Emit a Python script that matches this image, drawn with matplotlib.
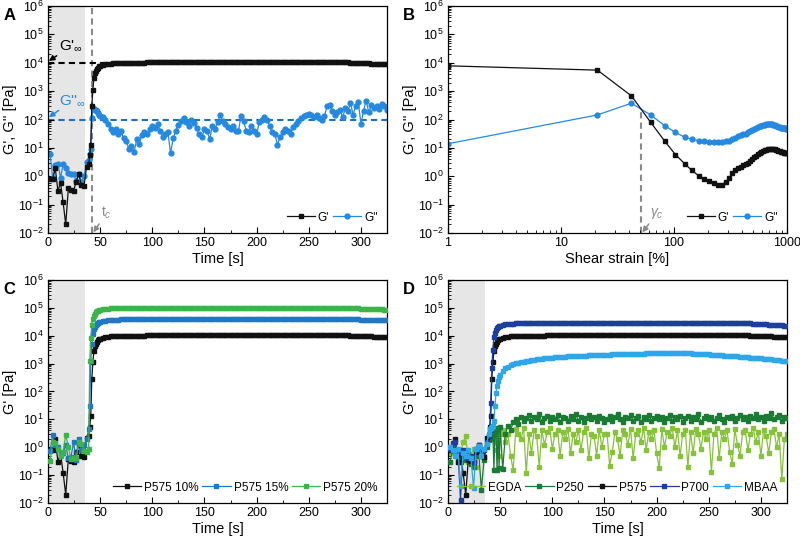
import numpy as np
import matplotlib
matplotlib.use("Agg")
import matplotlib.pyplot as plt
from matplotlib.ticker import LogLocator, NullFormatter, MultipleLocator, FuncFormatter

plt.rcParams['font.family'] = ['Liberation Sans', 'DejaVu Sans']
plt.rcParams['mathtext.fontset'] = 'custom'
plt.rcParams['mathtext.rm'] = 'Liberation Sans'
plt.rcParams['mathtext.it'] = 'Liberation Sans:italic'

# ---- time grid (s) shared by the time sweeps ----
t_early = [2, 4.5, 7, 9.5, 12, 14.5, 17, 19.5, 22, 24.5, 27, 29.5, 32, 34.5, 37, 39]
t_trans = [40, 41, 42, 43, 44, 45, 46, 47, 48, 49, 50]
time_s = np.concatenate([t_early, t_trans, np.arange(52.5, 325.1, 2.5)])

# P575 10 % (G' in A, black in C and D)
g1_p575 = [0.8, 0.8, 1.9, 0.3, 0.6, 0.12, 0.02, 0.38, 0.33, 0.3, 0.65, 1.2, 0.48, 0.45, 2.2, 2.6,
           5.5, 13, 290, 1100, 2800, 4200, 5200, 6000, 6800, 7400, 7900,
           8500, 8900, 9200, 9400, 9600, 9700, 9800, 9900, 9950, 10000,
           10000, 10100, 10100, 10100, 10200, 10200, 10200, 10300, 10300, 10300,
           10300, 10400, 10400, 10400, 10400, 10500, 10500, 10500, 10500, 10500,
           10500, 10600, 10600, 10600, 10600, 10600, 10600, 10700, 10700, 10700,
           10700, 10700, 10700, 10700, 10700, 10700, 10700, 10700, 10700, 10700,
           10700, 10700, 10800, 10800, 10800, 10800, 10800, 10800, 10800, 10800,
           10800, 10800, 10800, 10800, 10800, 10800, 10800, 10800, 10800, 10800,
           10800, 10800, 10800, 10800, 10800, 10800, 10800, 10800, 10800, 10800,
           10800, 10800, 10800, 10800, 10700, 10700, 10700, 10700, 10700, 10600,
           10600, 10500, 10500, 10400, 10300, 10200, 10100, 10000, 9900, 9800,
           9700, 9600, 9500, 9400, 9300, 9200, 9100, 9000, 8900, 8800]

# G'' of P575 10 % (panel A)
g2_p575 = [6.0, 0.85, 2.5, 2.7, 0.9, 2.6, 2.0, 1.3, 1.25, 1.2, 0.7, 1.2, 0.65, 1.0, 3.2, 3.6,
           6, 9, 110, 250, 235, 220, 210, 195, 170, 150, 130,
           120, 100, 70, 48, 35, 45, 30, 38, 22, 18,
           9, 12, 7, 20, 14, 28, 35, 32, 45, 60,
           50, 70, 40, 25, 30, 35, 6.5, 22, 40, 65,
           90, 110, 80, 60, 95, 75, 50, 30, 25, 45,
           40, 20, 60, 45, 80, 140, 90, 70, 55, 45,
           60, 40, 38, 130, 90, 40, 35, 60, 40, 30,
           80, 100, 120, 95, 60, 35, 30, 13, 25, 35,
           45, 40, 30, 55, 70, 90, 110, 130, 150, 160,
           140, 120, 150, 110, 100, 130, 300, 320, 200, 150,
           180, 210, 120, 250, 200, 380, 150, 300, 420, 70,
           200, 460, 180, 320, 250, 300, 230, 350, 300, 220]

# P575 15 % and 20 % (panel C)
g1_p575_15 = [0.75, 2.8, 1.2, 1.0, 0.55, 0.6, 1.2, 0.4, 0.45, 1.5, 0.35, 1.9, 0.8, 1.2, 2.0, 4.5,
              30, 1200, 5000, 12000, 17000, 21000, 24000, 26500, 28500, 30000, 31000,
              33000, 34500, 35500, 36500, 37000, 37500, 38000, 38500, 38800, 39000,
              39200, 39400, 39600, 39800, 40000, 40000, 40200, 40200, 40400, 40400,
              40500, 40500, 40600, 40600, 40700, 40700, 40800, 40800, 40800, 40900,
              40900, 40900, 41000, 41000, 41000, 41000, 41000, 41000, 41000, 41000,
              41000, 41000, 41000, 41000, 41000, 41000, 41000, 41000, 41000, 41000,
              41000, 41000, 41000, 41000, 41000, 41000, 41000, 41000, 41000, 41000,
              41000, 41000, 41000, 41000, 41000, 41000, 41000, 41000, 41000, 41000,
              41000, 41000, 41000, 41000, 41000, 41000, 41000, 41000, 40900, 40900,
              40900, 40800, 40800, 40800, 40700, 40700, 40600, 40600, 40500, 40500,
              40400, 40300, 40000, 39800, 39500, 39200, 38900, 38600, 38300, 38000,
              37700, 37400, 37100, 36800, 36500, 36200, 36000, 35800, 35600, 35400]
g1_p575_20 = [0.32, 1.5, 1.4, 0.9, 0.5, 0.7, 2.8, 1.0, 0.38, 0.4, 0.4, 1.5, 1.3, 0.75, 0.7, 0.9,
              1200, 8000, 25000, 40000, 52000, 62000, 70000, 76000, 80000, 84000, 87000,
              90000, 92000, 94000, 95500, 96500, 97500, 98000, 98500, 99000, 99500,
              100000, 100000, 100500, 100500, 101000, 101000, 101000, 101500, 101500, 101500,
              102000, 102000, 102000, 102000, 102000, 102000, 102000, 102000, 102000, 102000,
              102000, 102000, 102000, 102000, 102000, 102000, 102000, 102000, 102000, 102000,
              102000, 102000, 102000, 102000, 102000, 102000, 102000, 102000, 102000, 102000,
              102000, 102000, 102000, 102000, 102000, 102000, 102000, 102000, 102000, 102000,
              102000, 102000, 102000, 102000, 102000, 102000, 102000, 102000, 102000, 102000,
              102000, 102000, 102000, 102000, 102000, 102000, 102000, 102000, 102000, 102000,
              102000, 102000, 102000, 102000, 101500, 101500, 101500, 101000, 101000, 101000,
              101000, 100500, 100000, 99500, 99000, 98000, 97000, 96000, 95000, 94000,
              93000, 92000, 91000, 90000, 89000, 88500, 88000, 87500, 87000, 86000]

# crosslinkers (panel D)
g1_egda = [0.6, 1.1, 0.9, 0.4, 0.6, 1.5, 2.5, 0.3, 0.5, 0.9, 0.2, 1.2, 0.8, 0.5, 1.2, 2.0,
           3.0, 5.0, 6.0, 2.0, 4.5, 1.5, 3.5, 0.8, 4.0, 0.5, 3.0,
           4, 1.5, 3, 0.5, 0.15, 4.5, 3, 2, 5, 0.12,
           3, 0.6, 4, 2.5, 0.2, 4, 1.2, 3.5, 5, 0.9,
           3, 4, 0.5, 3.5, 2, 4.5, 0.6, 3, 1.5, 4,
           0.8, 3.5, 5, 0.4, 3, 2.5, 0.5, 4, 1.0, 3,
           3, 0.22, 0.7, 3.5, 2, 0.5, 4, 3, 1.2, 4.5,
           0.4, 3, 4, 1.5, 5, 0.8, 3.5, 2, 4, 0.6,
           0.18, 4.5, 1.0, 3.5, 2.5, 5, 1.0, 4, 0.5, 3,
           4, 0.2, 3.5, 0.6, 4.5, 3, 0.9, 3.5, 2, 4,
           0.13, 3, 5, 0.4, 3.5, 2, 4, 0.7, 0.25, 4.5,
           1.2, 0.5, 3.5, 4, 0.8, 3, 5, 1.5, 3.5, 0.5,
           4, 2.5, 0.6, 3.5, 4.5, 1.0, 3, 0.07, 2, 3]
g1_p250 = [0.3, 0.9, 0.7, 0.45, 0.3, 0.5, 0.35, 0.6, 0.25, 0.2, 0.5, 0.6, 0.03, 0.35, 1.0, 1.8,
           2.5, 3.5, 2.0, 4.0, 0.15, 3.0, 5.0, 0.15, 4.0, 0.18, 5.5,
           0.16, 3, 6, 4, 8, 10, 7, 12, 9, 11,
           14, 9, 12, 10, 15, 8, 11, 13, 9, 12,
           10, 14, 8, 12, 11, 9, 13, 10, 15, 9,
           12, 8, 11, 14, 10, 12, 9, 13, 11, 8,
           10, 13, 9, 12, 15, 10, 8, 12, 11, 14,
           9, 11, 13, 8, 12, 10, 14, 9, 11, 13,
           10, 12, 8, 11, 14, 9, 12, 10, 13, 8,
           11, 13, 9, 12, 10, 15, 8, 11, 13, 10,
           12, 9, 11, 14, 10, 8, 12, 11, 13, 9,
           11, 14, 10, 12, 9, 13, 11, 15, 10, 12,
           9, 13, 11, 17, 10, 12, 14, 9, 12, 11]
g1_p700 = [0.9, 1.4, 1.5, 0.7, 0.013, 0.8, 0.6, 0.4, 0.5, 0.3, 0.9, 1.2, 0.6, 0.8, 1.5, 2.5,
           4, 40, 700, 3200, 9000, 13000, 16000, 18500, 20500, 22000, 23000,
           24500, 25500, 26200, 26800, 27200, 27500, 27800, 28000, 28200, 28300,
           28400, 28500, 28500, 28600, 28600, 28700, 28700, 28700, 28800, 28800,
           28800, 28800, 28900, 28900, 28900, 28900, 29000, 29000, 29000, 29000,
           29000, 29000, 29000, 29000, 29000, 29000, 29000, 29000, 29000, 29000,
           29000, 29000, 29000, 29000, 29000, 29000, 29000, 29000, 29000, 29000,
           29000, 29000, 29000, 29000, 29000, 29000, 29000, 29000, 29000, 29000,
           29000, 29000, 29000, 29000, 29000, 29000, 29000, 29000, 29000, 29000,
           29000, 29000, 29000, 29000, 29000, 29000, 29000, 29000, 29000, 29000,
           29000, 29000, 29000, 28900, 28900, 28900, 28900, 28800, 28800, 28800,
           28800, 28600, 28400, 28200, 28000, 27700, 27400, 27000, 26600, 26200,
           25800, 25400, 25000, 24600, 24300, 24000, 23700, 23400, 23100, 22800]
g1_mbaa = [1.0, 0.8, 0.5, 0.9, 0.04, 0.6, 0.5, 0.8, 0.4, 0.035, 0.9, 1.1, 0.5, 0.9, 1.3, 3.0,
           4.5, 5, 5.5, 6, 9, 30, 90, 160, 230, 320, 400,
           560, 680, 780, 870, 950, 1020, 1080, 1140, 1190, 1240,
           1290, 1340, 1380, 1420, 1460, 1500, 1540, 1570, 1600, 1630,
           1660, 1690, 1720, 1750, 1780, 1800, 1830, 1850, 1870, 1890,
           1910, 1930, 1950, 1970, 1990, 2010, 2030, 2050, 2070, 2090,
           2100, 2120, 2140, 2160, 2170, 2190, 2200, 2220, 2230, 2240,
           2250, 2260, 2280, 2290, 2300, 2310, 2320, 2330, 2340, 2350,
           2360, 2370, 2380, 2390, 2400, 2400, 2390, 2380, 2370, 2360,
           2350, 2330, 2310, 2290, 2270, 2250, 2220, 2190, 2160, 2130,
           2100, 2070, 2040, 2010, 1980, 1950, 1920, 1890, 1860, 1830,
           1800, 1770, 1740, 1710, 1680, 1650, 1620, 1590, 1560, 1530,
           1500, 1470, 1440, 1410, 1380, 1350, 1320, 1290, 1260, 1230]

# ---- amplitude sweep (panel B) ----
strain = [1, 21, 42, 62, 83, 103, 124, 144, 165, 185, 205, 226, 246, 267, 287, 308, 328,
          348, 369, 389, 410, 430, 451, 471, 492, 512, 533, 553, 574, 594, 615, 635, 656,
          676, 697, 717, 738, 758, 779, 799, 820, 840, 861, 881, 902, 922, 943, 963, 984, 1000]
amp_g1 = [7800, 5500, 680, 81, 17, 5.8, 2.8, 1.6, 1.05, 0.8, 0.67, 0.57, 0.51, 0.51, 0.63,
          0.87, 1.3, 1.7, 1.9, 2.1, 2.4, 2.7, 3.0, 3.4, 3.9, 4.6, 5.3, 6.1, 6.6, 7.1, 7.7,
          8.2, 8.6, 8.8, 9.1, 9.1, 9.1, 9.1, 8.9, 8.6, 8.2, 7.8, 7.5, 7.3, 7.1, 7.0, 6.8,
          6.8, 6.6, 6.4]
amp_g2 = [14, 145, 375, 145, 60, 35, 24, 20, 18, 17, 16, 15.5, 15.5, 16, 17, 18, 20, 23,
          26, 28, 30, 32, 35, 38, 42, 47, 51, 55, 58, 61, 63, 65, 67, 68, 68, 68, 67, 65,
          63, 60, 57, 55, 54, 52, 51, 50, 49, 49, 48, 47]

c_black = '#111111'
c_blue = '#2589e0'
c_15 = '#2277c5'
c_20 = '#3cb44a'
c_egda = '#86c23a'
c_p250 = '#1b7a33'
c_p700 = '#1c3f9e'
c_mbaa = '#2ea6ea'
c_grey = '#8a8a8a'


def style(ax, xlabel, ylabel, timeaxis=True):
    ax.set_yscale('log')
    ax.set_ylim(1e-2, 1e6)
    ax.yaxis.set_major_locator(LogLocator(base=10, numticks=12))
    ax.yaxis.set_minor_locator(LogLocator(base=10, subs=np.arange(2, 10), numticks=12))
    ax.yaxis.set_minor_formatter(NullFormatter())
    if timeaxis:
        ax.set_xlim(0, 325)
        ax.xaxis.set_major_locator(MultipleLocator(50))
        ax.xaxis.set_minor_locator(MultipleLocator(25))
        ax.axvspan(0, 35, color='#e6e6e6', lw=0, zorder=0)
    ax.tick_params(which='both', direction='in', top=False, right=False, labelsize=9, pad=3)
    ax.tick_params(which='major', length=4)
    ax.tick_params(which='minor', length=2)
    ax.set_xlabel(xlabel, fontsize=10.5, labelpad=2)
    ax.set_ylabel(ylabel, fontsize=10.5, labelpad=1)
    for s in ax.spines.values():
        s.set_linewidth(0.9)


def legend(ax, ncol):
    ax.legend(loc='lower right', ncol=ncol, frameon=False, fontsize=8.5, handlelength=2.4,
              handletextpad=0.25, columnspacing=0.3, borderaxespad=0.4)


fig = plt.figure(figsize=(8, 5.42), dpi=100)
axA = fig.add_axes([0.06, 0.5701, 0.42375, 0.4188])
axB = fig.add_axes([0.56, 0.5701, 0.42375, 0.4188])
axC = fig.add_axes([0.06, 0.0720, 0.42375, 0.4114])
axD = fig.add_axes([0.56, 0.0720, 0.42375, 0.4114])

arrow_kw = dict(arrowstyle='-|>', lw=1.1, mutation_scale=8, shrinkA=0, shrinkB=0)

# ---- A ----
style(axA, 'Time [s]', "G', G'' [Pa]")
axA.axvline(42, color=c_grey, ls=(0, (3, 2)), lw=1.5, zorder=1)
axA.plot([0, 60], [1e4, 1e4], color='black', ls=(0, (3, 2)), lw=1.5, zorder=1)
axA.plot([0, 325], [1e2, 1e2], color='#1f6fbf', ls=(0, (3, 2)), lw=1.5, zorder=1)
axA.plot(time_s, g1_p575, '-s', color=c_black, ms=3, lw=0.9, label="G'", zorder=3)
axA.plot(time_s, g2_p575, '-o', color=c_blue, ms=3.5, lw=0.9, label="G''", zorder=2)
axA.annotate(r"G'$_\infty$", xy=(0.8, 1.15e4), xytext=(11, 2.2e4), fontsize=11,
             va='bottom', ha='left', arrowprops=dict(color='black', **arrow_kw))
axA.annotate(r"G''$_\infty$", xy=(0.8, 1.2e2), xytext=(11, 2.6e2), fontsize=11, color=c_blue,
             va='bottom', ha='left', arrowprops=dict(color=c_blue, **arrow_kw))
axA.annotate(r"t$_c$", xy=(43.5, 0.0105), xytext=(51, 0.026), fontsize=10, color=c_grey,
             va='bottom', ha='left', arrowprops=dict(color=c_grey, **arrow_kw))
legend(axA, 2)

# ---- B ----
style(axB, 'Shear strain [%]', "G', G'' [Pa]", timeaxis=False)
axB.set_xscale('log')
axB.set_xlim(1, 1000)
axB.xaxis.set_minor_formatter(NullFormatter())
axB.xaxis.set_major_formatter(FuncFormatter(lambda v, p: '%g' % v))
axB.plot([51, 51], [1e-2, 240], color=c_grey, ls=(0, (3, 2)), lw=1.5, zorder=1)
axB.plot(strain, amp_g1, '-s', color=c_black, ms=3, lw=0.9, label="G'", zorder=3)
axB.plot(strain, amp_g2, '-o', color=c_blue, ms=3.5, lw=0.9, label="G''", zorder=2)
axB.annotate(r"$\gamma_c$", xy=(52.5, 0.0105), xytext=(61, 0.026), fontsize=10, color=c_grey,
             va='bottom', ha='left', arrowprops=dict(color=c_grey, **arrow_kw))
legend(axB, 2)

# ---- C ----
style(axC, 'Time [s]', "G' [Pa]")
axC.plot(time_s, g1_p575, '-s', color=c_black, ms=3, lw=0.9, label='P575 10%', zorder=3)
axC.plot(time_s, g1_p575_15, '-s', color=c_15, ms=3, lw=0.9, label='P575 15%', zorder=3)
axC.plot(time_s, g1_p575_20, '-s', color=c_20, ms=3, lw=0.9, label='P575 20%', zorder=3)
legend(axC, 3)

# ---- D ----
style(axD, 'Time [s]', "G' [Pa]")
axD.plot(time_s, g1_egda, '-s', color=c_egda, ms=3, lw=0.9, label='EGDA', zorder=2)
axD.plot(time_s, g1_p250, '-s', color=c_p250, ms=3, lw=0.9, label='P250', zorder=3)
axD.plot(time_s, g1_p575, '-s', color=c_black, ms=3, lw=0.9, label='P575', zorder=3)
axD.plot(time_s, g1_p700, '-s', color=c_p700, ms=3, lw=0.9, label='P700', zorder=3)
axD.plot(time_s, g1_mbaa, '-s', color=c_mbaa, ms=3, lw=0.9, label='MBAA', zorder=3)
legend(axD, 5)

for lab, x, y in [('A', 0.004, 0.985), ('B', 0.504, 0.985), ('C', 0.004, 0.48), ('D', 0.504, 0.48)]:
    fig.text(x, y, lab, fontsize=12, fontweight='bold', va='top', ha='left')

fig.savefig('out.png', dpi=100)
